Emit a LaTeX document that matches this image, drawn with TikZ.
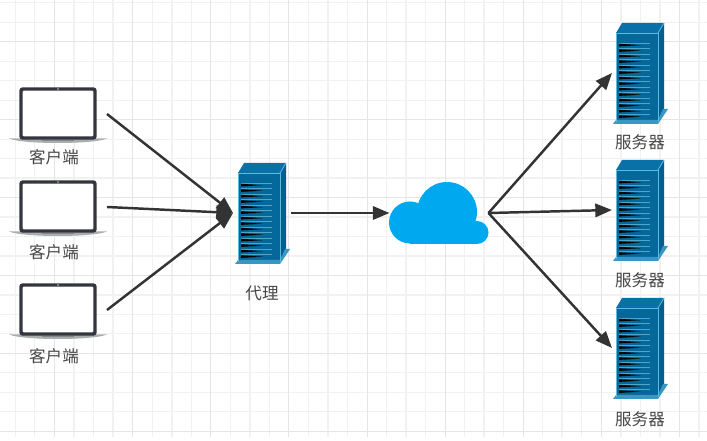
\documentclass[tikz,border=0pt]{standalone}
\usepackage{fontspec}
\usepackage{xcolor}
\usetikzlibrary{arrows.meta}
\newfontfamily\cjk{Noto Sans CJK SC}
\definecolor{gridminor}{HTML}{F1F1F1}
\definecolor{gridmajor}{HTML}{E5E5E5}
\definecolor{srvfront}{HTML}{04689A}
\definecolor{srvtop}{HTML}{0A71A8}
\definecolor{srvside}{HTML}{045F8E}
\definecolor{srvedge}{HTML}{5DB9DE}
\definecolor{srvvent}{HTML}{4FA5C8}
\definecolor{cloudblue}{HTML}{00A8F0}
\definecolor{linkgray}{HTML}{333333}
\definecolor{lapframe}{HTML}{35353F}
\definecolor{lapbase}{HTML}{A9ADAD}
\tikzset{
  iconbox/.style={inner sep=0pt,outer sep=0pt},
  lbl/.style={font=\cjk\fontsize{12.4}{14}\selectfont,text=black!72,inner sep=0pt},
  link/.style={line width=1.85pt,linkgray,-{Triangle[length=12.5pt,width=10pt]}},
  laptop/.pic={
    \fill[lapbase] (-49,24.5) -- (49,24.5) .. controls (35,30.5) and (-35,30.5) .. (-49,24.5) -- cycle;
    \draw[lapframe,line width=2.6pt,fill=white,rounded corners=1.5pt] (-37,-25) rectangle (37,24);
    \fill[white!70!lapframe] (0,-25) circle (0.8);
    \fill[lapframe!60] (-16,26) rectangle (16,26.8);
  },
  server/.pic={
    \fill[srvfront] (-24,-40) rectangle (18,49);
    \fill[srvtop] (-24,-40) -- (-18,-50) -- (24,-50) -- (18,-40) -- cycle;
    \fill[srvside] (18,-40) -- (24,-50) -- (24,37) -- (18,49) -- cycle;
    \fill[srvedge!60!srvfront] (-27,51) -- (18,51) -- (28,36) -- (23,36) -- (18,47) -- (-24,47) -- cycle;
    \draw[srvedge,line width=0.6pt] (-24,49) -- (-24,-40) -- (18,-40) -- (18,49);
    \draw[srvedge,line width=0.6pt] (18,-40) -- (24,-50);
    % vent stripes
    \foreach \y in {-28,-22.5,...,45}{
      \draw[srvvent,line width=0.5pt] (-21,\y-1.8) -- (10,\y-1.8);
      \fill[black] (-21,\y-1.2) -- (1,\y+0.2) -- (-21,\y+1.4) -- cycle;
    }
  },
  cloudpic/.pic={
    \fill[cloudblue] (-29,9.5) circle (21);
    \fill[cloudblue] (8,-1) circle (30);
    \fill[cloudblue] (38,19.5) circle (11.5);
    \fill[cloudblue] (-29,10) rectangle (38,31);
  }
}
\begin{document}
\begin{tikzpicture}[x=0.75pt,y=-0.75pt]
\useasboundingbox (0,0) rectangle (707,441);
\fill[white] (0,0) rectangle (707,441);
% grid
\foreach \x in {15.2,34.75,74,93.5,113,152.5,172,191.5,230.5,250,269.5,308.5,328,347.5,386.5,406,425.5,464.5,484,503.5,542.5,562,581.5,621,640.5,660,699}{
  \draw[gridminor,line width=0.8pt] (\x,0) -- (\x,437);
}
\foreach \y in {2.7,22.2,61.2,80.7,100.1,139.1,158.6,178,217,236.5,256,295,314.4,333.9,372.9,392.4,411.8}{
  \draw[gridminor,line width=0.8pt] (0,\y) -- (707,\y);
}
\foreach \x in {54.3,132.5,210.7,288.9,367.1,445.3,523.5,601.7,679.9}{
  \draw[gridmajor,line width=0.8pt] (\x,0) -- (\x,437);
}
\foreach \y in {41.7,119.6,197.5,275.4,353.3,431.2}{
  \draw[gridmajor,line width=0.8pt] (0,\y) -- (707,\y);
}
% clients
\foreach \n/\y/\t in {client1/114/157,client2/207/252,client3/310/356}{
  \node[iconbox,minimum width=73.5pt,minimum height=39pt] (\n) at (58,\y) {};
  \pic at (\n) {laptop};
  \node[lbl] (\n lbl) at (54,\t) {客户端};
}
% proxy
\node[iconbox,minimum width=43.5pt,minimum height=75pt] (proxy) at (262,213) {};
\pic at (proxy) {server};
\node[lbl] (proxylbl) at (262,293) {代理};
% cloud
\node[iconbox,minimum width=74.25pt,minimum height=45pt] (cloud) at (439,213) {};
\pic at (cloud) {cloudpic};
% servers
\foreach \n/\y/\t in {srv1/73/142,srv2/210/280,srv3/348/419}{
  \node[iconbox,minimum width=42pt,minimum height=75pt] (\n) at (640,\y) {};
  \pic at (\n) {server};
  \node[lbl] (\n lbl) at (640,\t) {服务器};
}
% links
\foreach \n in {client1,client2,client3}{
  \draw[link] (\n.east) -- (proxy.west);
}
\draw[link] (proxy.east) -- (cloud.west);
\foreach \n in {srv1,srv2,srv3}{
  \draw[link] (cloud.east) -- (\n.west);
}
\end{tikzpicture}
\end{document}
